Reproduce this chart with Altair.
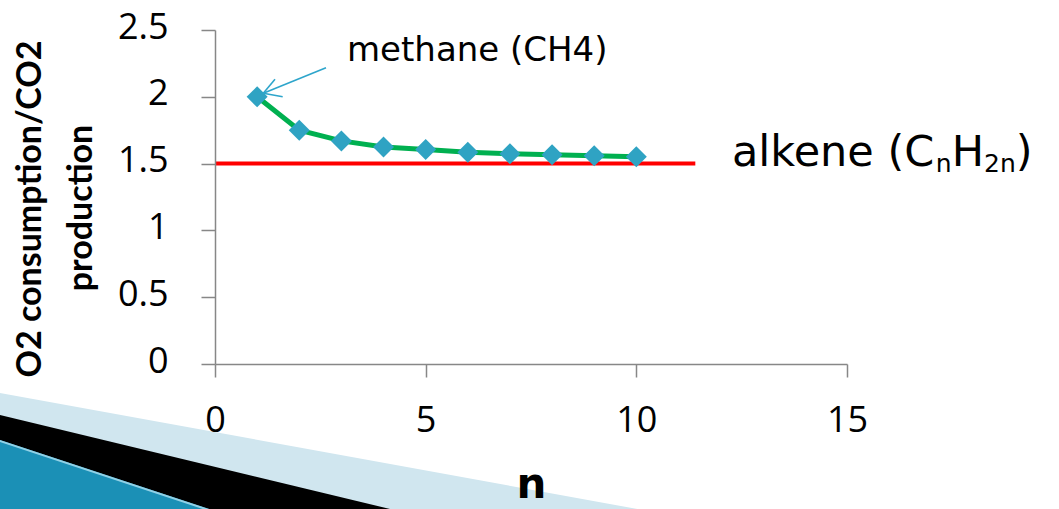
import altair as alt
import pandas as pd

# ---- data ----
n_values = [1, 2, 3, 4, 5, 6, 7, 8, 9, 10]
ratio_values = [2.0, 1.75, 1.67, 1.625, 1.605, 1.585, 1.574, 1.567, 1.559, 1.552]
alkene_level = [1.5, 1.5]
alkene_x = [0, 11.4]
x_ticks = [0, 5, 10, 15]
y_ticks = [0, 0.5, 1, 1.5, 2, 2.5]
title_lines = ["O2 consumption/CO2", "production"]
methane_label = "methane (CH4)"
alkene_parts = ["alkene (C", "n", "H", "2n", ")"]
x_title = "n"

# ---- layout (page pixels) ----
W, H = 1059, 509
OX, OY = 215, 30          # plot origin on the page
PW, PH = 632, 334         # plot area

series = pd.DataFrame({"n": n_values, "ratio": ratio_values})
alk = pd.DataFrame({"x": [alkene_x[0]], "x2": [alkene_x[1]], "y": [alkene_level[0]]})
one = alt.Data(values=[{"k": 0}])

xscale = alt.Scale(domain=[0, 15], nice=False)
yscale = alt.Scale(domain=[0, 2.5], nice=False)

axis_common = dict(
    grid=False, domainColor="#878787", domainWidth=1.5,
    tickColor="#878787", tickWidth=1.5,
    labelFont="Open Sans", labelFontSize=36, labelColor="black",
    labelFlush=False, labelOverlap=False, title=None, zindex=1,
)
xaxis = alt.Axis(values=x_ticks, format="d", tickSize=13, labelPadding=26, **axis_common)
yaxis = alt.Axis(values=y_ticks, format="~g", tickSize=14, labelPadding=33,
                 labelOffset=-3, **axis_common)


def band(y0, s, w, color, xa=-300, xb=1000):
    L = (1 + s * s) ** 0.5
    nx, ny = -s / L * w / 2, 1 / L * w / 2
    return alt.Chart(one).mark_rule(color=color, strokeWidth=w, strokeCap="butt").encode(
        x=alt.value(xa + nx - OX), y=alt.value(y0 + s * xa + ny - OY),
        x2=alt.value(xb + nx - OX), y2=alt.value(y0 + s * xb + ny - OY),
    )


def text(t, px, py, size, font="DejaVu Sans", weight="normal", angle=0,
         align="left", baseline="alphabetic", color="black"):
    return alt.Chart(one).mark_text(
        text=t, font=font, fontSize=size, fontWeight=weight, angle=angle,
        align=align, baseline=baseline, color=color,
    ).encode(x=alt.value(px - OX), y=alt.value(py - OY))


def seg(x1, y1, x2, y2, color="#2ea5cb", w=1.6):
    return alt.Chart(one).mark_rule(color=color, strokeWidth=w).encode(
        x=alt.value(x1 - OX), y=alt.value(y1 - OY),
        x2=alt.value(x2 - OX), y2=alt.value(y2 - OY),
    )


# decorative swoosh
light = band(393, 0.182, 220, "#d0e6ef")
black = band(415, 0.241, 200, "#000000")
teal = band(440, 0.33, 160, "#1b90b6")
edge = band(440, 0.33, 2, "#92d1e6")

base = alt.Chart(series).encode(
    x=alt.X("n:Q", scale=xscale, axis=xaxis),
    y=alt.Y("ratio:Q", scale=yscale, axis=yaxis),
)

red = alt.Chart(alk).mark_rule(color="#ff0000", strokeWidth=4).encode(
    x=alt.X("x:Q", scale=xscale, axis=xaxis),
    x2="x2:Q",
    y=alt.Y("y:Q", scale=yscale, axis=yaxis),
)
line = base.mark_line(color="#00b050", strokeWidth=5)
pts = base.mark_point(shape="diamond", filled=True, size=440, color="#2fa3c3", opacity=1)

# annotations
title1 = text(title_lines[0], 31, 209, 34, font="Lato", weight="bold", angle=270,
              align="center", baseline="middle")
title2 = text(title_lines[1], 82, 208, 34, font="Lato", weight="bold", angle=270,
              align="center", baseline="middle")
methane = text(methane_label, 347, 60.6, 34)
arrow = [seg(326, 67.7, 263.3, 93.3), seg(263.3, 93.3, 275, 79.3), seg(263.3, 93.3, 282.7, 96.7)]

alk_x = [732, 935.8, 951.7, 984.0, 1015.7]
alk_size = [43, 25, 43, 25, 43]
alk_base = [166, 172, 166, 172, 166]
alk_texts = [text(t, x, b, s) for t, x, b, s in zip(alkene_parts, alk_x, alk_base, alk_size)]

ntitle = text(x_title, 531.5, 498, 42, weight="bold", align="center")

chart = alt.layer(
    light, black, teal, edge,
    red, line, pts,
    title1, title2, methane, *arrow, *alk_texts, ntitle,
).properties(
    width=PW, height=PH,
    autosize=alt.AutoSizeParams(type="none"),
    padding={"left": OX, "top": OY, "right": W - OX - PW, "bottom": H - OY - PH},
    background="white",
).configure_view(stroke=None)

chart.save("out.html", embed_options={"renderer": "svg", "actions": False})
